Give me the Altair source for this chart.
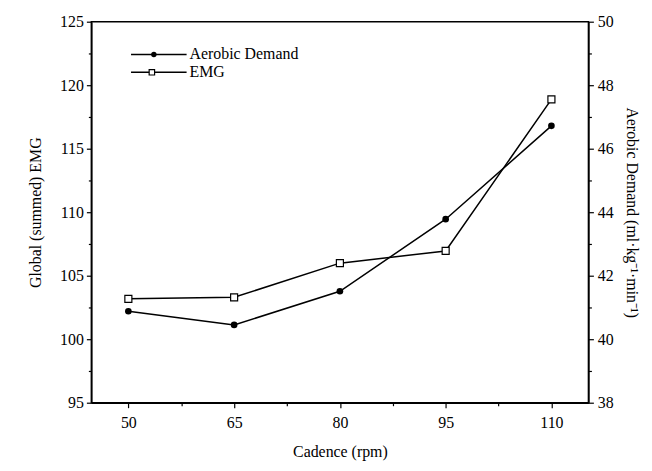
import altair as alt
import pandas as pd

cadence = [50, 65, 80, 95, 110]
emg = [103.18, 103.3, 105.99, 106.95, 118.88]
aerobic = [40.88, 40.45, 41.51, 43.78, 46.72]

x_ticks = [50, 57.5, 65, 72.5, 80, 87.5, 95, 102.5, 110]
left_ticks = [95, 97.5, 100, 102.5, 105, 107.5, 110, 112.5, 115, 117.5, 120, 122.5, 125]
right_ticks = [38, 39, 40, 41, 42, 43, 44, 45, 46, 47, 48, 49, 50]

df = pd.DataFrame({"cadence": cadence, "emg": emg, "aerobic": aerobic})

FONT = "Liberation Serif"
FS = 16

x_enc = alt.X(
    "cadence:Q",
    scale=alt.Scale(domain=[44.75, 115.25], nice=False, zero=False),
    axis=alt.Axis(
        title="Cadence (rpm)",
        values=x_ticks,
        labelExpr="datum.value % 15 == 5 ? datum.label : ''",
        tickSize={"condition": {"test": "datum.value % 15 == 5", "value": 5}, "value": 3},
        labelOverlap=False,
        grid=False,
        titlePadding=13,
        labelPadding=7,
    ),
)

emg_y = alt.Y(
    "emg:Q",
    scale=alt.Scale(domain=[95, 125], nice=False, zero=False),
    axis=alt.Axis(
        title="Global (summed) EMG",
        orient="left",
        values=left_ticks,
        labelExpr="datum.value % 5 == 0 ? datum.label : ''",
        tickSize={"condition": {"test": "datum.value % 5 == 0", "value": 5}, "value": 3},
        labelOverlap=False,
        grid=False,
        titlePadding=16,
        labelPadding=3,
    ),
)

aer_y = alt.Y(
    "aerobic:Q",
    scale=alt.Scale(domain=[38, 50], nice=False, zero=False),
    axis=alt.Axis(
        title="Aerobic Demand (ml·kg⁻¹·min⁻¹)",
        orient="right",
        values=right_ticks,
        labelExpr="datum.value % 2 == 0 ? datum.label : ''",
        tickSize={"condition": {"test": "datum.value % 2 == 0", "value": 5}, "value": 3},
        labelOverlap=False,
        grid=False,
        titlePadding=10,
        labelPadding=4,
    ),
)

base = alt.Chart(df)

emg_layer = alt.layer(
    base.mark_line(color="black", strokeWidth=1.5).encode(x=x_enc, y=emg_y),
    base.mark_point(shape="square", filled=True, fill="white", stroke="black",
                    strokeWidth=1.2, size=50, opacity=1).encode(x=x_enc, y=emg_y),
)

aer_layer = alt.layer(
    base.mark_line(color="black", strokeWidth=1.5).encode(x=x_enc, y=aer_y),
    base.mark_point(shape="circle", filled=True, color="black", size=45,
                    opacity=1).encode(x=x_enc, y=aer_y),
)

legend_names = ["Aerobic Demand", "EMG"]
leg = alt.Chart(pd.DataFrame({"name": legend_names}))

leg1_line = leg.transform_filter("datum.name == 'Aerobic Demand'").mark_rule(
    color="black", strokeWidth=1.5).encode(x=alt.value(40), x2=alt.value(96), y=alt.value(33))
leg1_pt = leg.transform_filter("datum.name == 'Aerobic Demand'").mark_point(
    shape="circle", filled=True, color="black", size=30, opacity=1).encode(
    x=alt.value(63), y=alt.value(33))
leg1_txt = leg.transform_filter("datum.name == 'Aerobic Demand'").mark_text(
    align="left", baseline="middle", font=FONT, fontSize=FS, color="black").encode(
    x=alt.value(99), y=alt.value(33), text="name:N")

leg2_line = leg.transform_filter("datum.name == 'EMG'").mark_rule(
    color="black", strokeWidth=1.5).encode(x=alt.value(40), x2=alt.value(96), y=alt.value(51))
leg2_pt = leg.transform_filter("datum.name == 'EMG'").mark_point(
    shape="square", filled=True, fill="white", stroke="black", strokeWidth=1.2,
    size=30, opacity=1).encode(x=alt.value(61), y=alt.value(51))
leg2_txt = leg.transform_filter("datum.name == 'EMG'").mark_text(
    align="left", baseline="middle", font=FONT, fontSize=FS, color="black").encode(
    x=alt.value(99), y=alt.value(51), text="name:N")

chart = alt.layer(
    emg_layer, aer_layer,
    leg1_line, leg1_pt, leg1_txt, leg2_line, leg2_pt, leg2_txt,
).resolve_scale(y="independent").properties(
    width=501,
    height=384,
    autosize=alt.AutoSizeParams(type="none"),
    padding={"left": 84, "top": 12, "right": 56, "bottom": 66},
    background="white",
).configure_view(
    stroke="black", strokeWidth=1.5
).configure_axis(
    labelFont=FONT, titleFont=FONT, labelFontSize=FS, titleFontSize=FS,
    titleFontWeight="normal", labelColor="black", titleColor="black",
    domainColor="black", tickColor="black", domainWidth=1.5, tickWidth=1.2,
)

chart.save("out.html", embed_options={"renderer": "svg", "actions": False})
